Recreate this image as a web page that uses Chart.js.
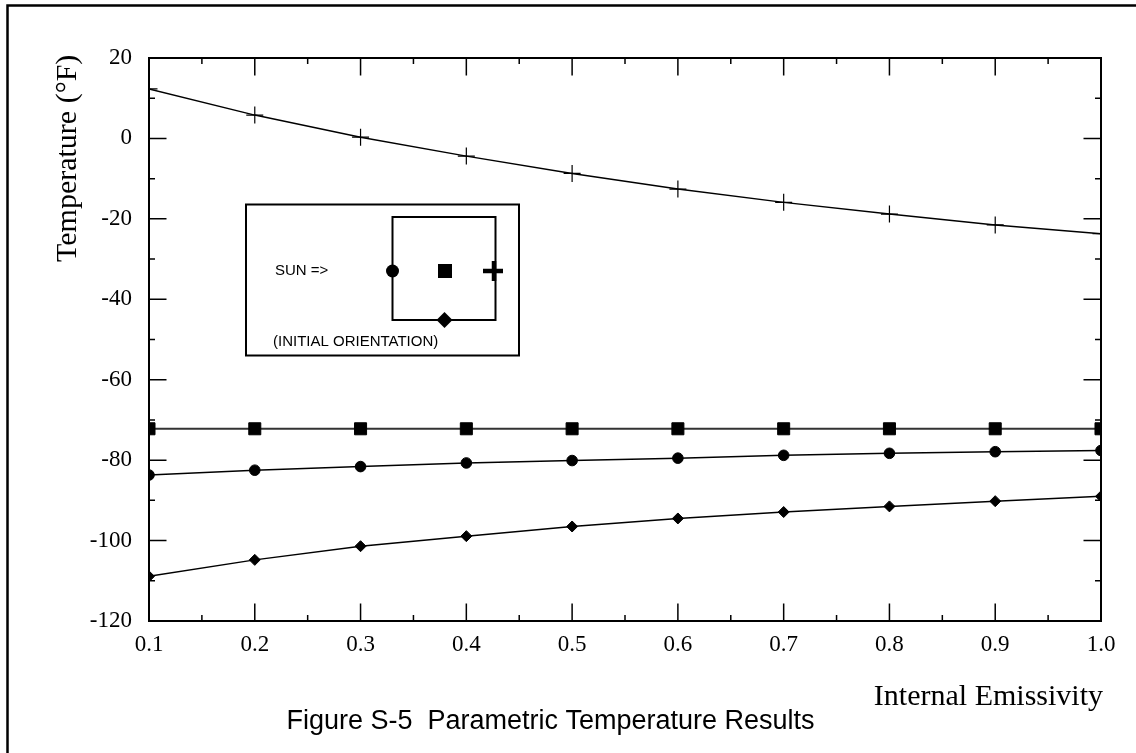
<!DOCTYPE html>
<html><head><meta charset="utf-8">
<script src="https://cdn.jsdelivr.net/npm/chart.js@4/dist/chart.umd.min.js"></script>
<style>html,body{margin:0;padding:0;background:#fff;overflow:hidden}canvas{display:block}</style>
</head><body>
<canvas id="c" width="1136" height="753"></canvas>
<script>
// ---- data ----
const emissivity  = [0.1, 0.2, 0.3, 0.4, 0.5, 0.6, 0.7, 0.8, 0.9, 1.0];
const tempPlus    = [12.3, 5.8, 0.3, -4.4, -8.7, -12.6, -15.9, -18.8, -21.5, -23.7];
const tempSquare  = [-72.2, -72.2, -72.2, -72.2, -72.2, -72.2, -72.2, -72.2, -72.2, -72.2];
const tempCircle  = [-83.7, -82.5, -81.6, -80.7, -80.1, -79.5, -78.8, -78.3, -77.9, -77.6];
const tempDiamond = [-108.9, -104.8, -101.4, -98.9, -96.5, -94.5, -92.9, -91.5, -90.2, -89.0];

const xTickLabels = ['0.1','0.2','0.3','0.4','0.5','0.6','0.7','0.8','0.9','1.0'];
const yTickLabels = ['-120','-100','-80','-60','-40','-20','0','20'];
const xMinorTicks = [0.15, 0.25, 0.35, 0.45, 0.55, 0.65, 0.75, 0.85, 0.95];
const yMinorTicks = [-110, -90, -70, -50, -30, -10, 10];

const xTitle = 'Internal Emissivity';
const yTitle = 'Temperature (\u00B0F)';
const caption = 'Figure S-5  Parametric Temperature Results';
const insetSun = 'SUN =>';
const insetNote = '(INITIAL ORIENTATION)';

const SERIF = "'Liberation Serif', 'Times New Roman', serif";
const SANS = "'Liberation Sans', Arial, sans-serif";

const pts = ys => emissivity.map((x, i) => ({x, y: ys[i]}));

const decor = {
  id: 'decor',
  afterDatasetsDraw(chart) {
    const ctx = chart.ctx;
    const {left, right, top, bottom} = chart.chartArea;
    const xs = chart.scales.x, ys = chart.scales.y;
    ctx.save();
    ctx.strokeStyle = '#000';
    ctx.fillStyle = '#000';
    // plot frame
    ctx.lineWidth = 2;
    ctx.strokeRect(left, top, right - left, bottom - top);
    // inward tick marks, all four sides
    ctx.lineWidth = 1.5;
    ctx.beginPath();
    const MAJ = 17.5, MIN = 6;
    xTickLabels.forEach(l => { const p = xs.getPixelForValue(Number(l));
      ctx.moveTo(p, bottom); ctx.lineTo(p, bottom - MAJ); ctx.moveTo(p, top); ctx.lineTo(p, top + MAJ); });
    xMinorTicks.forEach(v => { const p = xs.getPixelForValue(v);
      ctx.moveTo(p, bottom); ctx.lineTo(p, bottom - MIN); ctx.moveTo(p, top); ctx.lineTo(p, top + MIN); });
    yTickLabels.forEach(l => { const p = ys.getPixelForValue(Number(l));
      ctx.moveTo(left, p); ctx.lineTo(left + MAJ, p); ctx.moveTo(right, p); ctx.lineTo(right - MAJ, p); });
    yMinorTicks.forEach(v => { const p = ys.getPixelForValue(v);
      ctx.moveTo(left, p); ctx.lineTo(left + MIN, p); ctx.moveTo(right, p); ctx.lineTo(right - MIN, p); });
    ctx.stroke();

    // inset diagram
    ctx.lineWidth = 2;
    ctx.fillStyle = '#fff';
    ctx.fillRect(246, 204.5, 273, 151);
    ctx.strokeRect(246, 204.5, 273, 151);
    ctx.strokeRect(392.5, 217, 103, 103);
    ctx.fillStyle = '#000';
    ctx.beginPath(); ctx.arc(392.5, 271, 6.5, 0, Math.PI * 2); ctx.fill();
    ctx.fillRect(438, 264, 14, 14);
    ctx.lineWidth = 4.5;
    ctx.beginPath();
    ctx.moveTo(483, 271); ctx.lineTo(503, 271);
    ctx.moveTo(494, 261); ctx.lineTo(494, 281);
    ctx.stroke();
    ctx.beginPath();
    ctx.moveTo(444.5, 312); ctx.lineTo(452.5, 320); ctx.lineTo(444.5, 328); ctx.lineTo(436.5, 320); ctx.closePath();
    ctx.fill();
    ctx.font = '15px ' + SANS;
    ctx.textAlign = 'left'; ctx.textBaseline = 'middle';
    ctx.fillText(insetSun, 275, 271);
    ctx.fillText(insetNote, 273, 342);

    // axis titles and caption
    ctx.font = '30px ' + SERIF;
    ctx.textBaseline = 'alphabetic';
    ctx.textAlign = 'right';
    ctx.fillText(xTitle, 1103, 705);
    ctx.save();
    ctx.translate(76, 262); ctx.rotate(-Math.PI / 2);
    ctx.textAlign = 'left';
    ctx.fillText(yTitle, 0, 0);
    ctx.restore();
    ctx.font = '27px ' + SANS;
    ctx.textAlign = 'center';
    ctx.fillText(caption, 550.5, 729);

    // outer page frame (only top and left edges are inside the picture)
    ctx.lineWidth = 2.5;
    ctx.beginPath();
    ctx.moveTo(7.5, 800); ctx.lineTo(7.5, 5.5); ctx.lineTo(1200, 5.5);
    ctx.stroke();
    ctx.restore();
  }
};

new Chart(document.getElementById('c'), {
  type: 'line',
  data: {
    datasets: [
      { label: 'Sun side (+)', data: pts(tempPlus), borderColor: '#000', borderWidth: 1.5,
        pointStyle: 'cross', pointRadius: 8.5, pointBorderColor: '#000', pointBorderWidth: 1.2, clip: 0 },
      { label: 'Center (square)', data: pts(tempSquare), borderColor: '#333', borderWidth: 2,
        pointStyle: 'rect', pointRadius: 8.5, pointBackgroundColor: '#000', pointBorderColor: '#000', pointBorderWidth: 1, clip: 0 },
      { label: 'Shade side (circle)', data: pts(tempCircle), borderColor: '#000', borderWidth: 1.5,
        pointStyle: 'circle', pointRadius: 5.3, pointBackgroundColor: '#000', pointBorderColor: '#000', pointBorderWidth: 1, clip: 0 },
      { label: 'Bottom (diamond)', data: pts(tempDiamond), borderColor: '#000', borderWidth: 1.5,
        pointStyle: 'rectRot', pointRadius: 5.5, pointBackgroundColor: '#000', pointBorderColor: '#000', pointBorderWidth: 1, clip: 0 }
    ]
  },
  options: {
    responsive: false, animation: false, devicePixelRatio: 1,
    layout: { padding: { top: 58, right: 35, left: 0, bottom: 0 } },
    elements: { line: { tension: 0 } },
    plugins: { legend: { display: false }, title: { display: false }, tooltip: { enabled: false } },
    scales: {
      x: {
        type: 'linear', min: 0.1, max: 1.0,
        afterBuildTicks: s => { s.ticks = xTickLabels.map(l => ({ value: Number(l) })); },
        afterFit: s => { s.height = 132; },
        grid: { display: false, drawTicks: false }, border: { display: false },
        ticks: { padding: 10, color: '#000', font: { family: SERIF, size: 23 }, maxRotation: 0, autoSkip: false,
          callback: (v, i) => xTickLabels[i] }
      },
      y: {
        type: 'linear', min: -120, max: 20,
        afterBuildTicks: s => { s.ticks = yTickLabels.map(l => ({ value: Number(l) })); },
        afterFit: s => { s.width = 149; },
        grid: { display: false, drawTicks: false }, border: { display: false },
        ticks: { padding: 17, color: '#000', font: { family: SERIF, size: 23 }, autoSkip: false,
          callback: (v, i) => yTickLabels[i] }
      }
    }
  },
  plugins: [decor]
});
</script>
</body></html>
